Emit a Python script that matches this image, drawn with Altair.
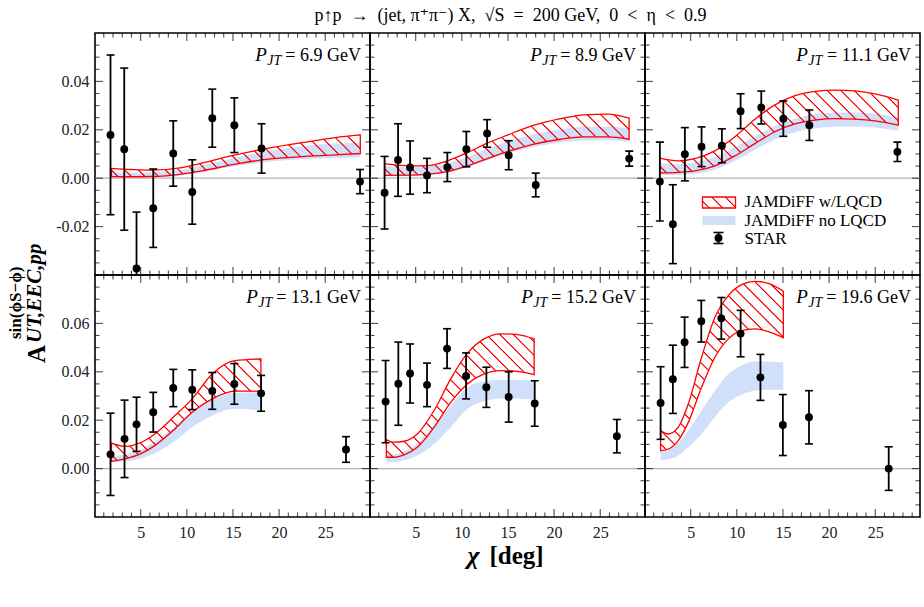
import altair as alt
import pandas as pd

# ---------------------------------------------------------------- data
PJT = ["6.9", "8.9", "11.1", "13.1", "15.2", "19.6"]

STAR_CHI = [
    [1.73, 3.22, 4.55, 6.36, 8.53, 10.59, 12.76, 15.15, 18.10, 28.77],
    [1.63, 3.09, 4.39, 6.23, 8.43, 10.49, 12.74, 15.08, 18.01, 28.14],
    [1.66, 3.07, 4.37, 6.18, 8.38, 10.41, 12.65, 15.04, 17.86, 27.40],
    [1.73, 3.25, 4.55, 6.36, 8.53, 10.59, 12.76, 15.15, 18.05, 27.25],
    [1.74, 3.12, 4.39, 6.23, 8.40, 10.46, 12.66, 15.08, 17.90, 26.80],
    [1.74, 3.07, 4.34, 6.15, 8.32, 10.41, 12.56, 14.99, 17.82, 26.46],
]
STAR_ASYM = [
    [0.0179, 0.0120, -0.0373, -0.0124, 0.0102, -0.0057, 0.0248, 0.0219, 0.0123, -0.0014],
    [-0.0060, 0.0075, 0.0044, 0.0011, 0.0046, 0.0120, 0.0185, 0.0095, -0.0028, 0.0081],
    [-0.0014, -0.0190, 0.0099, 0.0130, 0.0134, 0.0277, 0.0292, 0.0246, 0.0219, 0.0109],
    [0.0059, 0.0123, 0.0183, 0.0233, 0.0333, 0.0326, 0.0321, 0.0350, 0.0311, 0.0079],
    [0.0277, 0.0351, 0.0393, 0.0346, 0.0496, 0.0383, 0.0336, 0.0296, 0.0269, 0.0134],
    [0.0271, 0.0369, 0.0522, 0.0609, 0.0621, 0.0558, 0.0377, 0.0180, 0.0212, 0.0000],
]
STAR_ERR = [
    [0.0330, 0.0335, 0.0233, 0.0162, 0.0135, 0.0133, 0.0120, 0.0113, 0.0102, 0.0050],
    [0.0150, 0.0150, 0.0110, 0.0071, 0.0060, 0.0073, 0.0057, 0.0060, 0.0049, 0.0031],
    [0.0163, 0.0163, 0.0110, 0.0082, 0.0070, 0.0072, 0.0068, 0.0073, 0.0063, 0.0040],
    [0.0170, 0.0160, 0.0112, 0.0082, 0.0077, 0.0082, 0.0076, 0.0084, 0.0074, 0.0053],
    [0.0170, 0.0172, 0.0122, 0.0090, 0.0082, 0.0095, 0.0083, 0.0104, 0.0094, 0.0069],
    [0.0150, 0.0141, 0.0104, 0.0086, 0.0086, 0.0096, 0.0095, 0.0126, 0.0110, 0.0090],
]

# JAMDiFF bands: chi grid, with / without lattice-QCD constraint
BAND_CHI = [
    [1.83, 4.00, 6.20, 9.45, 11.62, 15.24, 18.86, 22.47, 26.09, 28.80],
    [1.63, 4.45, 6.26, 8.43, 10.60, 12.77, 14.94, 17.83, 20.72, 23.25, 25.78, 28.13],
    [1.66, 3.64, 5.45, 7.62, 9.79, 11.96, 14.13, 16.30, 18.46, 20.63, 22.80, 24.97, 27.50],
    [1.83, 3.28, 5.09, 6.53, 8.52, 10.58, 12.75, 15.20, 18.03],
    [1.82, 2.65, 3.74, 5.18, 6.99, 8.80, 10.61, 12.42, 14.22, 16.03, 17.84],
    [1.74, 2.57, 3.65, 4.74, 6.18, 7.63, 9.08, 10.52, 11.97, 13.42, 15.04],
]
LQCD_LO = [
    [0.0007, 0.0006, 0.0007, 0.0017, 0.0030, 0.0058, 0.0079, 0.0089, 0.0096, 0.0102],
    [0.0012, 0.0013, 0.0017, 0.0027, 0.0051, 0.0081, 0.0110, 0.0141, 0.0161, 0.0171, 0.0171, 0.0161],
    [0.0022, 0.0024, 0.0030, 0.0051, 0.0092, 0.0143, 0.0192, 0.0224, 0.0240, 0.0246, 0.0244, 0.0237, 0.0219],
    [0.0030, 0.0040, 0.0063, 0.0095, 0.0157, 0.0233, 0.0288, 0.0320, 0.0320],
    [0.0047, 0.0047, 0.0057, 0.0088, 0.0171, 0.0274, 0.0350, 0.0391, 0.0405, 0.0402, 0.0388],
    [0.0074, 0.0081, 0.0116, 0.0191, 0.0336, 0.0460, 0.0536, 0.0570, 0.0577, 0.0566, 0.0541],
]
LQCD_HI = [
    [0.0041, 0.0036, 0.0033, 0.0044, 0.0062, 0.0096, 0.0124, 0.0147, 0.0168, 0.0179],
    [0.0060, 0.0051, 0.0052, 0.0072, 0.0106, 0.0145, 0.0178, 0.0219, 0.0246, 0.0262, 0.0265, 0.0248],
    [0.0083, 0.0072, 0.0081, 0.0113, 0.0171, 0.0244, 0.0303, 0.0341, 0.0359, 0.0364, 0.0361, 0.0348, 0.0323],
    [0.0105, 0.0092, 0.0109, 0.0143, 0.0212, 0.0288, 0.0391, 0.0446, 0.0453],
    [0.0120, 0.0109, 0.0113, 0.0143, 0.0240, 0.0371, 0.0477, 0.0536, 0.0557, 0.0554, 0.0536],
    [0.0157, 0.0143, 0.0171, 0.0267, 0.0460, 0.0625, 0.0715, 0.0760, 0.0774, 0.0765, 0.0733],
]
NOLQCD_LO = [
    [0.0001, 0.0001, 0.0002, 0.0012, 0.0025, 0.0050, 0.0068, 0.0078, 0.0083, 0.0087],
    [0.0008, 0.0008, 0.0012, 0.0022, 0.0044, 0.0074, 0.0102, 0.0130, 0.0148, 0.0156, 0.0157, 0.0152],
    [0.0013, 0.0013, 0.0018, 0.0036, 0.0072, 0.0118, 0.0160, 0.0190, 0.0206, 0.0213, 0.0214, 0.0210, 0.0195],
    [0.0026, 0.0030, 0.0042, 0.0063, 0.0109, 0.0171, 0.0219, 0.0247, 0.0240],
    [0.0026, 0.0026, 0.0034, 0.0054, 0.0102, 0.0171, 0.0247, 0.0279, 0.0290, 0.0290, 0.0285],
    [0.0036, 0.0038, 0.0054, 0.0088, 0.0143, 0.0213, 0.0274, 0.0306, 0.0322, 0.0326, 0.0326],
]
NOLQCD_HI = [
    [0.0025, 0.0024, 0.0025, 0.0035, 0.0052, 0.0085, 0.0112, 0.0132, 0.0143, 0.0147],
    [0.0048, 0.0045, 0.0048, 0.0062, 0.0088, 0.0122, 0.0152, 0.0182, 0.0202, 0.0212, 0.0213, 0.0207],
    [0.0062, 0.0058, 0.0066, 0.0088, 0.0128, 0.0172, 0.0216, 0.0246, 0.0264, 0.0270, 0.0271, 0.0266, 0.0253],
    [0.0050, 0.0058, 0.0080, 0.0112, 0.0168, 0.0235, 0.0284, 0.0312, 0.0316],
    [0.0063, 0.0060, 0.0071, 0.0105, 0.0178, 0.0260, 0.0336, 0.0360, 0.0366, 0.0366, 0.0363],
    [0.0074, 0.0081, 0.0107, 0.0157, 0.0240, 0.0322, 0.0391, 0.0426, 0.0443, 0.0443, 0.0438],
]

X_DOMAIN = [0.05, 29.85]
Y_DOMAINS = [[-0.04, 0.06], [-0.02, 0.08]]
X_LABELS = [5, 10, 15, 20, 25]
Y_LABELS = [[-0.02, 0.0, 0.02, 0.04], [0.0, 0.02, 0.04, 0.06]]

LEGEND_TEXT = ["JAMDiFF w/LQCD", "JAMDiFF no LQCD", "STAR"]

# ---------------------------------------------------------------- style
W, H = 275, 242
SERIF = "'Liberation Serif', Tinos, 'Times New Roman', 'DejaVu Serif', serif"
RED = "#ff0000"
BLUE = "#d0dffa"
CLEAR = "rgba(255,0,0,0)"

# advance widths (1/1000 em) used to stack the P_JT label pieces
ADV = {" ": 250, "=": 564, ".": 250, "G": 722, "e": 444, "V": 722,
       "J": 444, "T": 556, "P": 611}


def text_width(s, size):
    return sum(ADV.get(c, 500) for c in s) * size / 1000.0


def hatch(w_px, h_px, spacing=13.5, line=1.3):
    """Linear gradient of thin red stripes at 45 deg (\\\\ hatch) for a box of w_px x h_px."""
    span = w_px + h_px
    s = span / (w_px ** 2 + h_px ** 2)
    half = line / span
    stops = [{"offset": 0, "color": CLEAR}]
    i = 0
    while True:
        c = (i + 0.5) * spacing / span
        if c + half >= 1:
            break
        stops += [
            {"offset": round(c - half, 5), "color": CLEAR},
            {"offset": round(c - 0.3 * half, 5), "color": RED},
            {"offset": round(c + 0.3 * half, 5), "color": RED},
            {"offset": round(c + half, 5), "color": CLEAR},
        ]
        i += 1
    stops.append({"offset": 1, "color": CLEAR})
    return {"gradient": "linear", "x1": 0, "y1": 1,
            "x2": round(s * w_px, 5), "y2": round(1 - s * h_px, 5), "stops": stops}


def text_layer(txt, x, y, size, **kw):
    return alt.Chart(pd.DataFrame({"t": [txt]})).mark_text(
        font=SERIF, fontSize=size, color="black", **kw
    ).encode(x=alt.value(x), y=alt.value(y), text="t:N")


def panel(i):
    row, col = divmod(i, 3)
    ydom = Y_DOMAINS[row]
    xscale = alt.Scale(domain=X_DOMAIN, nice=False, zero=False)
    yscale = alt.Scale(domain=ydom, nice=False, zero=False)
    if row == 1:
        xaxis = alt.Axis(values=X_LABELS, labelPadding=7, domain=False, ticks=False,
                         grid=False, labelFont=SERIF, labelFontSize=16,
                         labelColor="#222", title=None)
    else:
        xaxis = None
    if col == 0:
        yaxis = alt.Axis(values=Y_LABELS[row], labelPadding=6, domain=False, ticks=False,
                         grid=False, labelFont=SERIF, labelFontSize=16,
                         labelColor="#222", title=None,
                         labelExpr="replace(format(datum.value, '.2f'), '\u2212', '-')")
    else:
        yaxis = None

    def X(f):
        return alt.X(f, type="quantitative", scale=xscale, axis=xaxis)

    def Y(f):
        return alt.Y(f, type="quantitative", scale=yscale, axis=yaxis)

    sx = W / (X_DOMAIN[1] - X_DOMAIN[0])
    sy = H / (ydom[1] - ydom[0])

    star = pd.DataFrame({"chi": STAR_CHI[i], "asym": STAR_ASYM[i], "err": STAR_ERR[i]})
    star["lo"] = star["asym"] - star["err"]
    star["hi"] = star["asym"] + star["err"]
    band = pd.DataFrame({"chi": BAND_CHI[i], "rlo": LQCD_LO[i], "rhi": LQCD_HI[i],
                         "blo": NOLQCD_LO[i], "bhi": NOLQCD_HI[i]})

    bw = (max(BAND_CHI[i]) - min(BAND_CHI[i])) * sx
    bh = (max(LQCD_HI[i]) - min(LQCD_LO[i])) * sy

    # inward ticks on all four sides (doubled size, outer half clipped)
    xt = pd.DataFrame({"v": list(range(1, 30))})
    xt["len"] = [16 if v % 5 == 0 else 9 for v in xt["v"]]
    k0 = int(round(ydom[0] / 0.005)) + 1
    k1 = int(round(ydom[1] / 0.005))
    yt = pd.DataFrame({"v": [round(k * 0.005, 4) for k in range(k0, k1)]})
    yt["len"] = [16 if k % 4 == 0 else 9 for k in range(k0, k1)]

    layers = [
        alt.Chart(pd.DataFrame({"z": [0.0]})).mark_rule(color="#b4b4b4", strokeWidth=1.3)
        .encode(y=Y("z")),
        alt.Chart(band).mark_area(color=BLUE, interpolate="monotone", clip=True)
        .encode(x=X("chi"), y=Y("blo"), y2=alt.Y2("bhi")),
        alt.Chart(band).mark_area(fill=hatch(bw, bh), stroke=RED, strokeWidth=1.3,
                                  interpolate="monotone", clip=True)
        .encode(x=X("chi"), y=Y("rlo"), y2=alt.Y2("rhi")),
        alt.Chart(xt).mark_tick(orient="vertical", thickness=1.1, color="black", clip=True)
        .encode(x=X("v"), y=alt.value(0), size=alt.Size("len:Q", scale=None)),
        alt.Chart(xt).mark_tick(orient="vertical", thickness=1.1, color="black", clip=True)
        .encode(x=X("v"), y=alt.value(H), size=alt.Size("len:Q", scale=None)),
        alt.Chart(yt).mark_tick(orient="horizontal", thickness=1.1, color="black", clip=True)
        .encode(y=Y("v"), x=alt.value(0), size=alt.Size("len:Q", scale=None)),
        alt.Chart(yt).mark_tick(orient="horizontal", thickness=1.1, color="black", clip=True)
        .encode(y=Y("v"), x=alt.value(W), size=alt.Size("len:Q", scale=None)),
        alt.Chart(star).mark_rule(color="black", strokeWidth=1.8, clip=True)
        .encode(x=X("chi"), y=Y("lo"), y2=alt.Y2("hi")),
        alt.Chart(star).mark_tick(orient="horizontal", size=8, thickness=1.6,
                                  color="black", opacity=1, clip=True)
        .encode(x=X("chi"), y=Y("lo")),
        alt.Chart(star).mark_tick(orient="horizontal", size=8, thickness=1.6,
                                  color="black", opacity=1, clip=True)
        .encode(x=X("chi"), y=Y("hi")),
        alt.Chart(star).mark_circle(size=62, color="black", opacity=1)
        .encode(x=X("chi"), y=Y("asym")),
    ]

    # P_JT label, pieces stacked from the right edge
    value = "= " + PJT[i] + " GeV"
    xr = W - 9
    x_jt = xr - text_width(value, 18) - 4
    x_p = x_jt - text_width("JT", 14) - 0.5
    layers += [
        text_layer(value, xr, 28, 18, align="right", baseline="alphabetic"),
        text_layer("JT", x_jt, 32, 14, align="right", baseline="alphabetic",
                   fontStyle="italic"),
        text_layer("P", x_p, 28, 19, align="right", baseline="alphabetic",
                   fontStyle="italic"),
    ]

    if i == 0:
        # fixes the top-left corner of the whole figure
        layers.append(
            alt.Chart(pd.DataFrame({"k": [0]})).mark_rect(opacity=0)
            .encode(x=alt.value(-93.5), x2=alt.value(-92.5),
                    y=alt.value(-32), y2=alt.value(-31))
        )
        layers += [
            text_layer("A", -50.5, 330, 25, angle=270, align="left",
                       baseline="alphabetic", fontWeight="bold"),
            text_layer("UT,EEC,pp", -54.5, 310, 21, angle=270, align="left",
                       baseline="alphabetic", fontWeight="bold", fontStyle="italic"),
            text_layer("sin(\u03d5S\u2212\u03d5)", -74.5, 306, 17, angle=270, align="left",
                       baseline="alphabetic", fontWeight="bold"),
        ]
    if i == 1:
        layers.append(
            text_layer("p\u2191p\u2002\u2192\u2002(jet, \u03c0\u207a\u03c0\u207b) X,\u2002\u221aS\u2002=\u2002200 GeV,\u20020\u2002<\u2002\u03b7\u2002<\u20020.9",
                       W / 2 + 3, -12, 18, align="center", baseline="alphabetic")
        )
    if i == 2:
        rw, rh = 33, 11
        leg_x0, leg_x1 = 57.5, 90.5
        layers += [
            alt.Chart(pd.DataFrame({"k": [0]})).mark_rect(
                fill=hatch(rw, rh), stroke=RED, strokeWidth=1.3)
            .encode(x=alt.value(leg_x0), x2=alt.value(leg_x1),
                    y=alt.value(164), y2=alt.value(175)),
            alt.Chart(pd.DataFrame({"k": [0]})).mark_rect(fill=BLUE)
            .encode(x=alt.value(leg_x0), x2=alt.value(leg_x1),
                    y=alt.value(183), y2=alt.value(192)),
            alt.Chart(pd.DataFrame({"k": [0]})).mark_rule(color="black", strokeWidth=1.8)
            .encode(x=alt.value(73.5), y=alt.value(199.5), y2=alt.value(210.5)),
            alt.Chart(pd.DataFrame({"k": [0]})).mark_rule(color="black", strokeWidth=1.6)
            .encode(x=alt.value(68.5), x2=alt.value(78.5), y=alt.value(199.5)),
            alt.Chart(pd.DataFrame({"k": [0]})).mark_rule(color="black", strokeWidth=1.6)
            .encode(x=alt.value(68.5), x2=alt.value(78.5), y=alt.value(210.5)),
            alt.Chart(pd.DataFrame({"k": [0]})).mark_circle(size=62, color="black", opacity=1)
            .encode(x=alt.value(73.5), y=alt.value(205)),
        ]
        for t, yy in zip(LEGEND_TEXT, [169, 187.5, 205.5]):
            layers.append(text_layer(t, 99.5, yy, 17, align="left", baseline="middle"))
    if i == 4:
        layers += [
            text_layer("\u03c7", 97.5, 289, 26, align="left", baseline="alphabetic",
                       fontWeight="bold", fontStyle="italic"),
            text_layer("[deg]", 119.5, 289, 25, align="left", baseline="alphabetic",
                       fontWeight="bold"),
        ]

    return alt.layer(*layers).properties(width=W, height=H)


chart = alt.concat(*[panel(i) for i in range(6)], columns=3, spacing=0, bounds="flush") \
    .properties(padding=0) \
    .configure_view(stroke="black", strokeWidth=1.6)

chart.save("out.html", embed_options={"renderer": "svg", "actions": False})
